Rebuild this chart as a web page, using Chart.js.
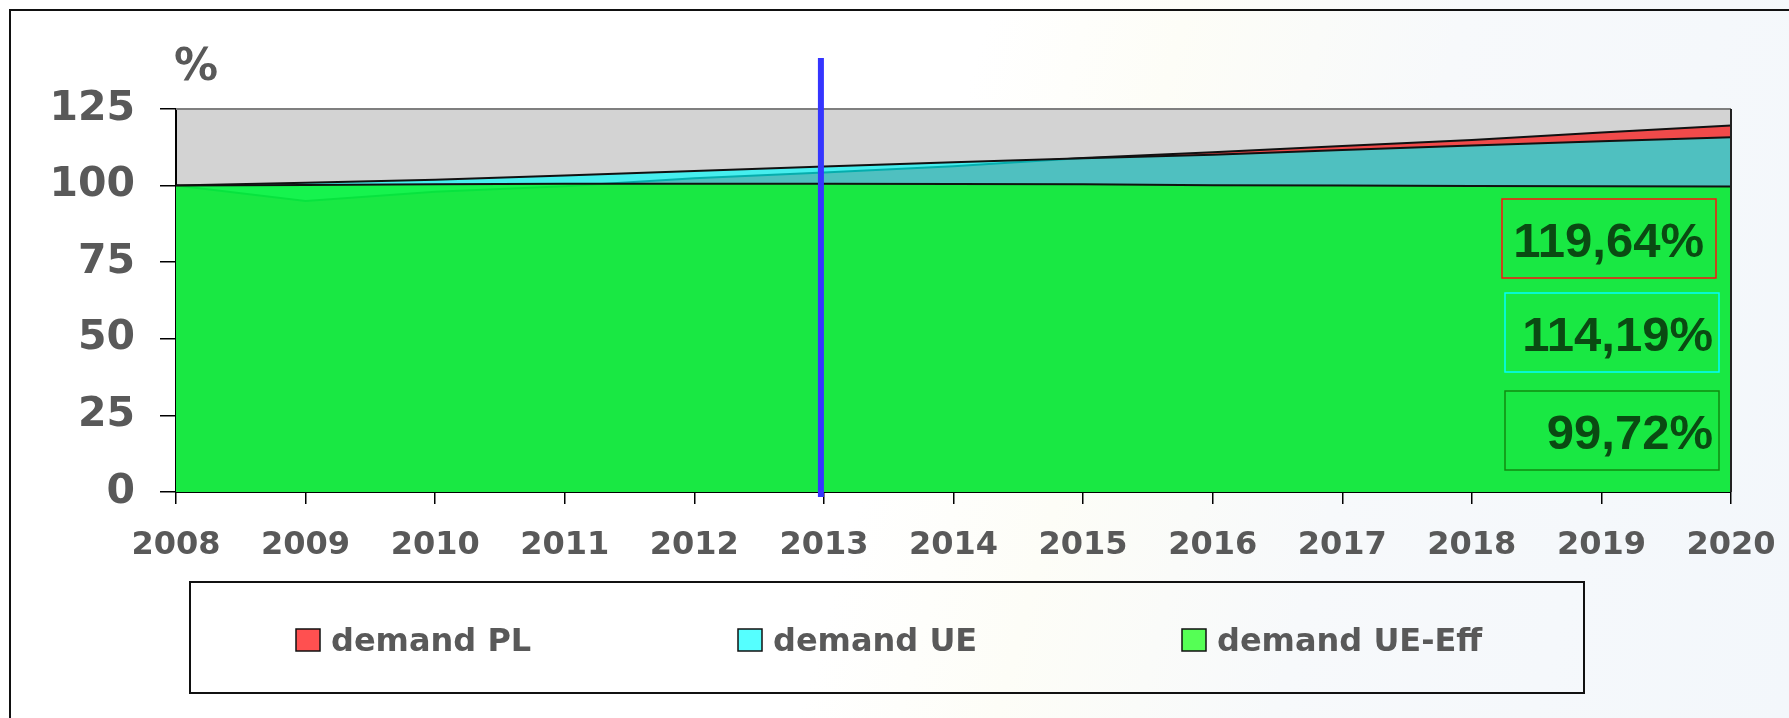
<!DOCTYPE html>
<html>
<head>
<meta charset="utf-8">
<title>demand</title>
<script src="https://cdn.jsdelivr.net/npm/chart.js@4.4.0/dist/chart.umd.min.js"></script>
<style>
  html, body { margin: 0; padding: 0; }
  body {
    width: 1789px; height: 718px; overflow: hidden;
    background: linear-gradient(105deg, #ffffff 0%, #ffffff 50%, #fdfdf7 60%, #f7f9fb 74%, #f3f7fb 100%);
  }
</style>
</head>
<body>
<canvas id="chart" width="1789" height="718"></canvas>
<script>
// values (% of 2008)
const years = ['2008', '2009', '2010', '2011', '2012', '2013', '2014', '2015', '2016', '2017', '2018', '2019', '2020'];
const demandPL = [100, 95.0, 98.0, 99.8, 102.4, 104.3, 106.3, 109.0, 110.9, 112.9, 114.9, 117.3, 119.64];
const demandUE = [100, 100.9, 101.9, 103.3, 104.8, 106.2, 107.6, 108.9, 110.1, 111.6, 113.1, 114.5, 115.8];
const demandUEEff = [100, 100.2, 100.4, 100.6, 100.6, 100.6, 100.5, 100.4, 100.1, 100.0, 99.9, 99.8, 99.72];
const seriesNames = ['demand PL', 'demand UE', 'demand UE-Eff'];
const endLabels = ['119,64%', '114,19%', '99,72%'];
const markerYear = '2013';
const yUnit = '%';

const fills = ['#f04a4a', 'rgba(0,251,251,0.67)', 'rgba(8,245,28,0.76)'];
const keyColors = ['#ff5050', '#55ffff', '#55ff55'];
const boxStrokes = ['#ff1010', '#00ffff', '#118a11'];
const grey = '#595959';

const decor = {
  id: 'decor',
  beforeDraw(chart) {
    const { ctx, chartArea: a } = chart;
    ctx.save();
    ctx.fillStyle = '#d3d3d3';
    ctx.fillRect(a.left, a.top, a.right - a.left, a.bottom - a.top);
    ctx.restore();
  },
  afterDatasetsDraw(chart) {
    const { ctx, chartArea: a, scales } = chart;
    ctx.save();
    // plot frame top/right
    ctx.strokeStyle = '#7f7f7f';
    ctx.lineWidth = 2;
    ctx.beginPath(); ctx.moveTo(a.left, a.top); ctx.lineTo(a.right, a.top); ctx.stroke();
    ctx.strokeStyle = '#222';
    ctx.beginPath(); ctx.moveTo(a.right, a.top); ctx.lineTo(a.right, a.bottom); ctx.stroke();

    // value boxes
    const rects = [[a.right - 229, a.top + 90], [a.right - 226, a.top + 184], [a.right - 226, a.top + 282]];
    ctx.font = 'bold 49px "Liberation Sans", Arial, sans-serif';
    ctx.textAlign = 'right';
    ctx.textBaseline = 'alphabetic';
    endLabels.forEach((t, i) => {
      const [x, y] = rects[i];
      ctx.strokeStyle = boxStrokes[i];
      ctx.lineWidth = 1.5;
      ctx.strokeRect(x, y, 214, 79);
      ctx.fillStyle = '#0a4a12';
      ctx.fillText(t, x + 208 - (i === 0 ? 6 : 0), y + 58);
    });

    // marker line
    const xm = scales.x.getPixelForValue(years.indexOf(markerYear)) - 3;
    ctx.strokeStyle = '#3535ff';
    ctx.lineWidth = 6;
    ctx.beginPath(); ctx.moveTo(xm, 58); ctx.lineTo(xm, a.bottom + 5); ctx.stroke();
    ctx.restore();
  },
  afterDraw(chart) {
    const { ctx, chartArea: a } = chart;
    ctx.save();
    // outer frame
    ctx.strokeStyle = '#111';
    ctx.lineWidth = 2;
    ctx.beginPath(); ctx.moveTo(10, 718); ctx.lineTo(10, 10); ctx.lineTo(1789, 10); ctx.stroke();

    // unit
    ctx.fillStyle = grey;
    ctx.font = 'bold 44px "DejaVu Sans", sans-serif';
    ctx.textAlign = 'left';
    ctx.textBaseline = 'alphabetic';
    ctx.fillText(yUnit, a.left - 2, 80);

    // legend
    ctx.strokeStyle = '#111';
    ctx.lineWidth = 2;
    ctx.strokeRect(190, 582, 1394, 111);
    const keyX = [296, 738, 1182];
    ctx.font = 'bold 32px "DejaVu Sans", sans-serif';
    chart.data.datasets.forEach((ds, i) => {
      const x = keyX[i];
      ctx.fillStyle = keyColors[i];
      ctx.fillRect(x, 629, 24, 22);
      ctx.strokeStyle = '#111';
      ctx.lineWidth = 1.5;
      ctx.strokeRect(x, 629, 24, 22);
      ctx.fillStyle = grey;
      ctx.fillText(ds.label, x + 35, 651);
    });
    ctx.restore();
  }
};

new Chart(document.getElementById('chart'), {
  type: 'line',
  data: {
    labels: years,
    datasets: [demandPL, demandUE, demandUEEff].map((d, i) => ({
      label: seriesNames[i],
      data: d,
      fill: 'origin',
      backgroundColor: fills[i],
      borderColor: '#111',
      borderWidth: 2,
      pointRadius: 0,
      tension: 0,
      order: 3 - i
    }))
  },
  options: {
    responsive: false,
    animation: false,
    layout: { padding: { top: 109, right: 58, bottom: 0, left: 0 } },
    plugins: { legend: { display: false }, tooltip: { enabled: false } },
    scales: {
      x: {
        grid: { drawOnChartArea: false, color: '#000', tickLength: 12, lineWidth: 1.5 },
        border: { color: '#000', width: 2 },
        ticks: { color: grey, font: { family: 'DejaVu Sans', weight: 'bold', size: 32 }, padding: 22, maxRotation: 0, autoSkip: false },
        afterFit(s) { s.height = 226; s.paddingLeft = 0; s.paddingRight = 0; }
      },
      y: {
        min: 0, max: 125,
        grid: { drawOnChartArea: false, color: '#000', tickLength: 16, lineWidth: 1.5 },
        border: { color: '#000', width: 2 },
        ticks: { stepSize: 25, color: grey, font: { family: 'DejaVu Sans', weight: 'bold', size: 41 }, padding: 25 },
        afterFit(s) { s.width = 176; }
      }
    }
  },
  plugins: [decor]
});
</script>
</body>
</html>
